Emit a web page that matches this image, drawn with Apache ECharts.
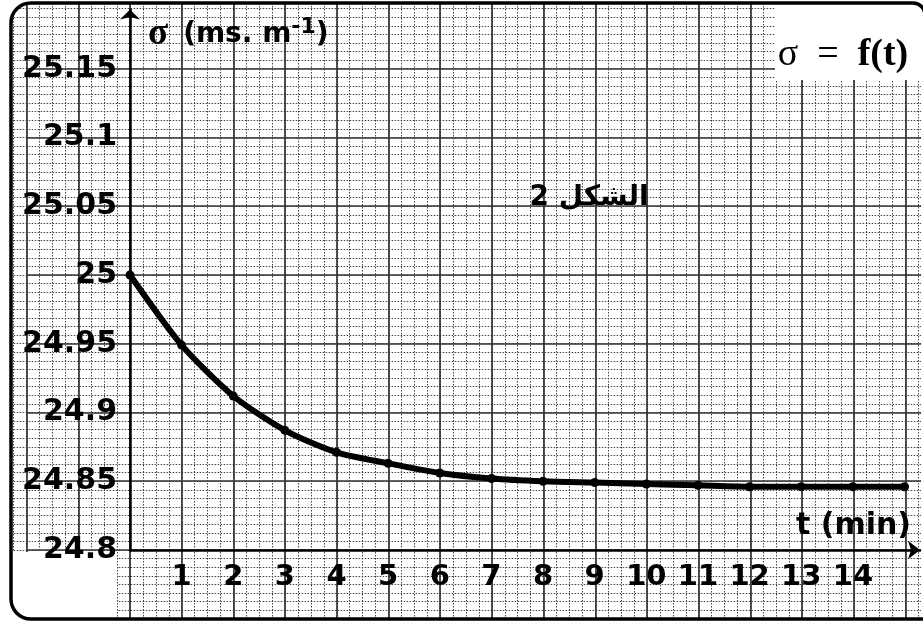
<!DOCTYPE html>
<html>
<head>
<meta charset="utf-8">
<script src="https://cdn.jsdelivr.net/npm/echarts/dist/echarts.min.js"></script>
<style>
html,body{margin:0;padding:0;background:#fff;}
#chart{width:923px;height:623px;}
</style>
</head>
<body>
<div id="chart"></div>
<script>
// ---- data ----
const tValues = [0, 1, 2, 3, 4, 5, 6, 7, 8, 9, 10, 11, 12, 13, 14, 15];
const sigmaValues = [25.000, 24.949, 24.912, 24.887, 24.871, 24.863, 24.856, 24.852, 24.850, 24.849, 24.848, 24.847, 24.846, 24.846, 24.846, 24.846];
const xTickLabels = ['1','2','3','4','5','6','7','8','9','10','11','12','13','14'];
const yTickLabels = ['24.8','24.85','24.9','24.95','25','25.05','25.1','25.15'];
const yAxisTitle = '{s|σ}{sp| }{b|(ms. m}{sup|-1}{b|)}';
const xAxisTitle = 't (min)';
const curveTitle = '{s|σ  =  }{f|f(t)}';
const figureLabel = 'الشكل 2';

const points = tValues.map((t, i) => [t, sigmaValues[i]]);

function pickLabel(list, v) {
  const s = list.find(l => Math.abs(parseFloat(l) - v) < 1e-6);
  return s === undefined ? '' : s;
}

// polygon that masks the outside of a rounded corner (decoration only)
function cornerMask(cx, cy, r, a0, a1, extra) {
  const pts = extra.slice(0, 1);
  for (let i = 0; i <= 16; i++) {
    const a = (a0 + (a1 - a0) * i / 16) * Math.PI / 180;
    pts.push([cx + r * Math.cos(a), cy + r * Math.sin(a)]);
  }
  return pts.concat(extra.slice(1));
}

const minorLine = { show: true, lineStyle: { color: '#454545', width: 1, type: [1.5, 1.5] } };
const majorLine = { show: true, showMaxLine: false, lineStyle: { color: '#333', width: 1.7 } };
const hidden = { axisLine: { show: false }, axisTick: { show: false }, axisLabel: { show: false } };
const labelFont = { fontFamily: 'DejaVu Sans', fontWeight: 'bold', color: '#000' };

const chart = echarts.init(document.getElementById('chart'), null, { renderer: 'canvas' });
chart.setOption({
  animation: false,
  backgroundColor: '#fff',
  grid: [
    { left: 13.675, right: 2, top: 3, bottom: 4.25 },
    { left: 26.6, right: 2, top: 3, bottom: 4.25 },
    { left: 130, right: 2, top: 9.6, bottom: 73 }
  ],
  xAxis: [
    Object.assign({ gridIndex: 0, type: 'value', min: -2.25, max: 15.3, interval: 0.25, z: 0,
      splitLine: Object.assign({ showMaxLine: false }, minorLine) }, hidden),
    Object.assign({ gridIndex: 1, type: 'value', min: -2, max: 15.3, interval: 1, z: 0,
      splitLine: majorLine }, hidden),
    { gridIndex: 2, type: 'value', min: 0, max: 15.3, interval: 1, z: 5,
      splitLine: { show: false }, axisTick: { show: false },
      axisLine: { show: true, symbol: ['none', 'arrow'], symbolSize: [14, 12], lineStyle: { color: '#000', width: 2.5 } },
      axisLabel: Object.assign({ fontSize: 29, margin: 13, formatter: v => pickLabel(xTickLabels, v) }, labelFont),
      name: xAxisTitle, nameLocation: 'end', nameGap: -9,
      nameTextStyle: Object.assign({ fontSize: 30, align: 'right', verticalAlign: 'bottom', padding: [0, 0, 9, 0] }, labelFont)
    }
  ],
  yAxis: [
    Object.assign({ gridIndex: 0, type: 'value', min: 24.75, max: 25.1978, interval: 0.00625, z: 0,
      splitLine: minorLine }, hidden),
    Object.assign({ gridIndex: 1, type: 'value', min: 24.75, max: 25.1978, interval: 0.05, z: 0,
      splitLine: majorLine }, hidden),
    { gridIndex: 2, type: 'value', min: 24.8, max: 25.193, interval: 0.05, z: 5,
      splitLine: { show: false }, axisTick: { show: false },
      axisLine: { show: true, symbol: ['none', 'arrow'], symbolSize: [15, 10], lineStyle: { color: '#000', width: 2.5 } },
      axisLabel: Object.assign({ fontSize: 30, margin: 13, formatter: v => pickLabel(yTickLabels, v) }, labelFont),
      name: yAxisTitle, nameLocation: 'end', nameGap: -25,
      nameTextStyle: {
        align: 'left', verticalAlign: 'middle', padding: [0, 0, 0, 18],
        fontSize: 28, fontWeight: 'bold', fontFamily: 'DejaVu Sans', color: '#000',
        rich: {
          s: { fontFamily: 'Liberation Serif', fontSize: 37, color: '#000', lineHeight: 36 },
          sp: { width: 15, fontSize: 28, lineHeight: 36 },
          b: { fontFamily: 'DejaVu Sans', fontWeight: 'bold', fontSize: 28, color: '#000', lineHeight: 36 },
          sup: { fontFamily: 'DejaVu Sans', fontWeight: 'bold', fontSize: 22, color: '#000', verticalAlign: 'top', lineHeight: 22 }
        }
      }
    }
  ],
  series: [{
    type: 'line', xAxisIndex: 2, yAxisIndex: 2, z: 6,
    data: points, smooth: 0.25,
    symbol: 'circle', symbolSize: 9, showSymbol: true,
    lineStyle: { color: '#000', width: 6 },
    itemStyle: { color: '#000' }
  }],
  graphic: [
    { type: 'rect', z: 1, shape: { x: 11, y: 552, width: 106, height: 68 }, style: { fill: '#fff' } },
    { type: 'rect', z: 1, shape: { x: 775, y: 0, width: 148, height: 80 }, style: { fill: '#fff' } },
    { type: 'text', z: 7, x: 843, y: 55, style: {
        text: curveTitle, align: 'center', verticalAlign: 'middle',
        rich: {
          s: { fontFamily: 'Liberation Serif', fontSize: 38, fill: '#000' },
          f: { fontFamily: 'Liberation Serif', fontSize: 38, fontWeight: 'bold', fill: '#000' }
        }
    } },
    { type: 'text', z: 7, x: 589, y: 198, style: {
        text: figureLabel, align: 'center', verticalAlign: 'middle',
        font: 'bold 28px "DejaVu Sans"', fill: '#000'
    } },
    { type: 'polygon', z: 9, shape: { points: cornerMask(31, 23, 20, 270, 180, [[0, 0], [0, 23]]) }, style: { fill: '#fff' } },
    { type: 'polygon', z: 9, shape: { points: cornerMask(31, 599, 20, 180, 90, [[0, 623], [31, 623]]) }, style: { fill: '#fff' } },
    { type: 'rect', z: 10, shape: { x: 11, y: 3, width: 914, height: 616, r: [20, 12, 0, 20] },
      style: { fill: 'none', stroke: '#000', lineWidth: 3.5 } }
  ]
});
</script>
</body>
</html>
